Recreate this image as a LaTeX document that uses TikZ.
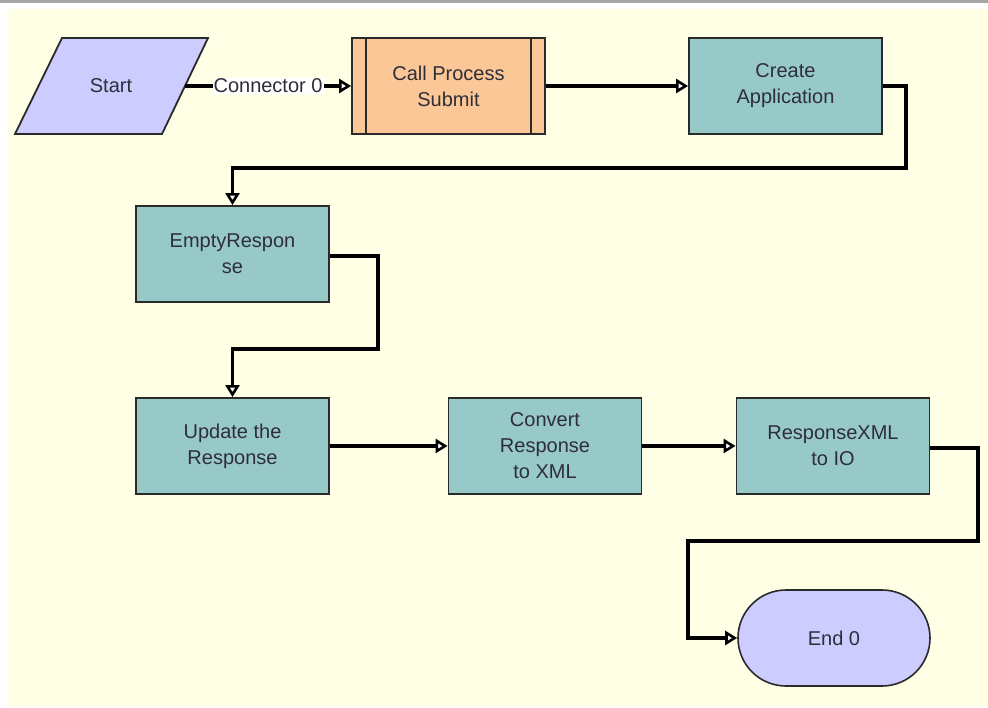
\documentclass[tikz,border=0pt]{standalone}
\usepackage{fontspec}
\setmainfont{Liberation Sans}
\usetikzlibrary{arrows.meta,shapes.geometric,positioning}
\definecolor{bgcream}{HTML}{FFFFE6}
\definecolor{lav}{HTML}{CCCCFF}
\definecolor{orng}{HTML}{FCC797}
\definecolor{teal}{HTML}{98C9C9}
\definecolor{txt}{HTML}{2E2E3A}
\definecolor{edge}{HTML}{2A2A2A}
\tikzset{
  proc/.style={draw=edge, line width=1.8pt, minimum width=193pt, minimum height=96pt, inner sep=0pt,
    align=center, text=txt, font=\fontsize{20}{26}\selectfont},
  tealbox/.style={proc, fill=teal},
  conn/.style={draw=black, line width=3.2pt, -{Triangle[open, length=12pt, width=14pt, line width=2.6pt, fill=white]}},
  lbl/.style={fill=white, inner sep=1pt, text=txt, font=\fontsize{20}{26}\selectfont}
}
\begin{document}
\begin{tikzpicture}[x=1pt,y=-1pt]
\useasboundingbox (0,0) rectangle (988,707);
\fill[white] (0,0) rectangle (988,707);
\fill[bgcream] (7,9) rectangle (988,706);
\fill[gray!70] (0,0) rectangle (988,3);
% Start parallelogram
\coordinate (s1) at (62,38);
\coordinate (s2) at (208,38);
\coordinate (s3) at (162,134);
\coordinate (s4) at (15,134);
\draw[draw=edge, line width=1.8pt, fill=lav] (s1) -- (s2) -- (s3) -- (s4) -- cycle;
\node[text=txt, font=\fontsize{20}{26}\selectfont] (start) at (111,86) {Start};
\coordinate (startR) at (185,86);
% Call Process Submit
\node[proc, fill=orng] (call) at (448.5,86) {Call Process\\Submit};
\draw[edge, line width=1.8pt] ([xshift=15pt]call.north west) -- ([xshift=15pt]call.south west);
\draw[edge, line width=1.8pt] ([xshift=-15pt]call.north east) -- ([xshift=-15pt]call.south east);
% Other boxes
\node[tealbox] (create) at (785.5,86) {Create\\Application};
\node[tealbox] (empty) at (232.5,254) {EmptyRespon\\se};
\node[tealbox] (update) at (232.5,446) {Update the\\Response};
\node[tealbox] (convert) at (545,446) {Convert\\Response\\to XML};
\node[tealbox] (rxml) at (833,446) {ResponseXML\\to IO};
\node[draw=edge, line width=1.6pt, fill=lav, rounded corners=48pt, minimum width=192pt, minimum height=96pt,
  text=txt, font=\fontsize{20}{26}\selectfont] (end) at (834,638) {End 0};
% connectors
\draw[conn] (startR) -- node[lbl] (c0) {Connector 0} (call.west);
\draw[conn] (call.east) -- (create.west);
\draw[conn] (create.east) -| (906,168) -| (empty.north);
\draw[conn] ([yshift=-2pt]empty.east) -| (378,349) -| (update.north);
\draw[conn] (update.east) -- (convert.west);
\draw[conn] (convert.east) -- (rxml.west);
\draw[conn] ([yshift=-2pt]rxml.east) -| (978,541) -| (688,638) -- (end.west);
\end{tikzpicture}
\end{document}
